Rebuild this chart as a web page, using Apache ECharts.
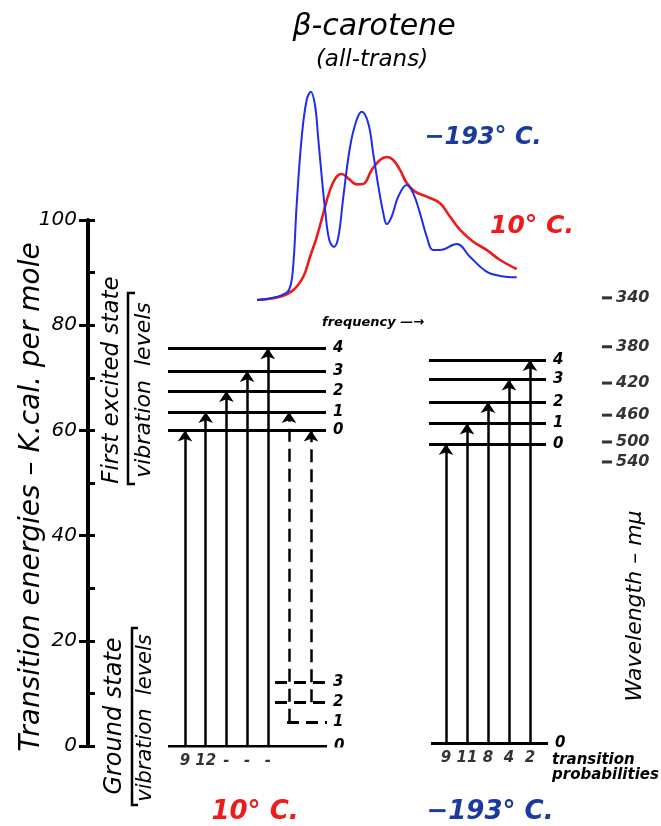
<!DOCTYPE html>
<html>
<head>
<meta charset="utf-8">
<script src="https://cdn.jsdelivr.net/npm/echarts@6/dist/echarts.min.js"></script>
<style>
  html, body { margin: 0; background: #fff; }
  #chart { width: 661px; height: 826px; }
</style>
</head>
<body>
<div id="chart"></div>
<script>
// energies in K.cal. per mole
const warmExcited = [60, 63.5, 67.5, 71.3, 75.6]
const warmGround = [0, 4.6, 8.3, 12.2]
const coldExcited = [57.4, 61.3, 65.4, 69.7, 73.4]
const coldGround = [0.6]
const levelNames = ['0', '1', '2', '3', '4']
const warmProb = ['9', '12', '-', '-', '-']
const coldProb = ['9', '11', '8', '4', '2']
// hot bands at 10 C: ground level -> excited level
const hotFrom = [1, 2]
const hotTo = [1, 0]
// wavelength scale (m\u03bc) and where each tick sits on the energy scale
const wavelengthLabels = ['340', '380', '420', '460', '500', '540']
const wavelengthEnergy = [85.2, 75.9, 69.0, 62.9, 57.8, 54.0]

// absorption spectra, frequency vs. absorbance (arbitrary units)
const coldSpectrum = [
  [0, 0], [5, 0.7], [9.6, 2.3], [12.3, 4.7], [13.8, 14], [15.3, 45.1], [17.2, 75.8],
  [19.1, 93], [20.7, 96.9], [22.3, 90.7], [23.5, 75.8], [24.9, 57.3], [26.2, 41.9],
  [27.8, 27.9], [29.6, 24.7], [31.3, 29.4], [33.2, 48], [35.8, 71.3], [38.3, 83.7],
  [40.3, 87.6], [42.8, 82.2], [44.7, 68.2], [46.7, 52.7], [48.6, 40.3], [49.9, 35.3],
  [51.8, 38.8], [54.3, 48], [57.6, 53.5], [60.1, 49.6], [62.7, 40.3], [65.3, 29.4],
  [67.7, 23.3], [70.4, 23.3], [76.8, 26], [81.9, 20.1], [88.3, 13.2], [93.5, 11.2], [99.9, 10.6]
]
const warmSpectrum = [
  [0, 0], [8.8, 1.5], [14, 4.7], [17.8, 10.8], [20.4, 20.1], [23, 29.4], [25.5, 40.3],
  [28.1, 51.2], [30.6, 57.3], [32.6, 58.6], [35.1, 56.6], [38.3, 53.8], [40.9, 54],
  [44.1, 60.5], [47.3, 65.1], [49.9, 66.5], [52.4, 65.1], [55, 60.5], [57.6, 54.4],
  [60.8, 50.4], [65.3, 48.1], [70.4, 45], [74.2, 38.8], [78.1, 32.6], [83.2, 27.1],
  [88.3, 23.3], [93.5, 18.6], [99.9, 14.4]
]

const FONT = 'DejaVu Sans'
const RED = '#ee1b1b'
const BLUE = '#1e2cf0'
const BLUE_TEXT = '#1b3a9e'

// diagram columns (x axis of the lower grid runs in page columns)
const warmLeft = 168, warmRight = 326, warmArrow0 = 185
const coldLeft = 429, coldRight = 546, coldArrow0 = 446
const arrowStep = 21
const hotX = [289, 311]
const dashedLeft = [287, 275, 275]

const levelData = []
warmExcited.forEach((e, i) => levelData.push({ name: levelNames[i], coords: [[warmLeft, e], [warmRight, e]] }))
levelData.push({ name: levelNames[0], coords: [[warmLeft, warmGround[0]], [warmRight + 1, warmGround[0]]] })
coldExcited.forEach((e, i) => levelData.push({ name: levelNames[i], coords: [[coldLeft, e], [coldRight, e]] }))
levelData.push({ name: levelNames[0], coords: [[coldLeft + 2, coldGround[0]], [coldRight + 2, coldGround[0]]] })

const dashedLevels = warmGround.slice(1).map((e, i) => ({
  name: levelNames[i + 1], coords: [[dashedLeft[i], e], [warmRight + 1, e]]
}))

const arrowData = []
const probData = []
warmExcited.forEach((e, i) => {
  const x = warmArrow0 + i * (arrowStep - 0.3)
  arrowData.push({ coords: [[x, warmGround[0]], [x, e]] })
  probData.push([x, warmGround[0], warmProb[i]])
})
coldExcited.forEach((e, i) => {
  const x = coldArrow0 + i * arrowStep
  arrowData.push({ coords: [[x, coldGround[0]], [x, e]] })
  probData.push([x, coldGround[0], coldProb[i]])
})

const hotArrows = hotFrom.map((g, i) => ({
  coords: [[hotX[i], warmGround[g]], [hotX[i], warmExcited[hotTo[i]]]]
}))

const boldItalic = { fontFamily: FONT, fontStyle: 'italic', fontWeight: 'bold', color: '#000' }

const chart = echarts.init(document.getElementById('chart'))

const txt = (x, y, text, font, fill, rot) => ({
  type: 'text', x, y, rotation: rot ? Math.PI / 2 : 0,
  style: { text, font: font + ' "DejaVu Sans"', fill: fill || '#000', textAlign: 'center', textVerticalAlign: 'middle' }
})

const option = {
  animation: false,
  backgroundColor: '#fff',
  grid: [
    { left: 88, top: 220, width: 573, height: 526 },
    { left: 257, top: 85, width: 260, height: 215 }
  ],
  xAxis: [
    { gridIndex: 0, type: 'value', min: 88, max: 661, show: false },
    { gridIndex: 1, type: 'value', min: 0, max: 100, show: false }
  ],
  yAxis: [
    {
      gridIndex: 0, type: 'value', min: 0, max: 100, interval: 20, position: 'left',
      axisLine: { show: true, lineStyle: { color: '#000', width: 4 } },
      axisTick: { show: true, inside: false, length: 9, lineStyle: { color: '#000', width: 3 } },
      axisLabel: { fontFamily: FONT, fontStyle: 'italic', fontSize: 20, color: '#000', margin: 11 },
      splitLine: { show: false }
    },
    {
      gridIndex: 0, type: 'value', min: 0, max: 100, interval: 10, position: 'left',
      axisLine: { show: false },
      axisTick: { show: true, inside: true, length: 7, lineStyle: { color: '#000', width: 3 } },
      axisLabel: { show: false },
      splitLine: { show: false }
    },
    { gridIndex: 1, type: 'value', min: 0, max: 100, show: false }
  ],
  series: [
    {
      name: 'levels', type: 'lines', coordinateSystem: 'cartesian2d', xAxisIndex: 0, yAxisIndex: 0,
      silent: true, symbol: 'none',
      lineStyle: { color: '#000', width: 3, opacity: 1 },
      label: { show: true, position: 'end', distance: 7, formatter: p => p.name, ...boldItalic, fontSize: 15 },
      data: levelData
    },
    {
      name: 'ground levels', type: 'lines', coordinateSystem: 'cartesian2d', xAxisIndex: 0, yAxisIndex: 0,
      silent: true, symbol: 'none',
      lineStyle: { color: '#000', width: 3, opacity: 1, type: [12, 7] },
      label: { show: true, position: 'end', distance: 6, formatter: p => p.name, ...boldItalic, fontSize: 15 },
      data: dashedLevels
    },
    {
      name: 'transitions', type: 'lines', coordinateSystem: 'cartesian2d', xAxisIndex: 0, yAxisIndex: 0,
      silent: true, symbol: ['none', 'arrow'], symbolSize: 11,
      lineStyle: { color: '#000', width: 2.5, opacity: 1 },
      data: arrowData
    },
    {
      name: 'hot bands', type: 'lines', coordinateSystem: 'cartesian2d', xAxisIndex: 0, yAxisIndex: 0,
      silent: true, symbol: ['none', 'arrow'], symbolSize: 11,
      lineStyle: { color: '#000', width: 2.5, opacity: 1, type: [13, 7] },
      data: hotArrows
    },
    {
      name: 'transition probabilities', type: 'scatter', xAxisIndex: 0, yAxisIndex: 0, clip: false, silent: true,
      symbolSize: 0,
      label: { show: true, position: 'bottom', distance: 8, formatter: p => p.data[2], ...boldItalic, fontSize: 15 },
      data: probData
    },
    {
      name: 'wavelength', type: 'scatter', xAxisIndex: 0, yAxisIndex: 0, clip: false, silent: true,
      symbol: 'rect', symbolSize: [10, 3], itemStyle: { color: '#000' },
      label: { show: true, position: 'right', distance: 4, formatter: p => p.data[2], ...boldItalic, fontSize: 16 },
      data: wavelengthEnergy.map((e, i) => [607, e, wavelengthLabels[i]])
    },
    {
      name: '10\u00b0 C.', type: 'line', xAxisIndex: 1, yAxisIndex: 2, smooth: 0.4,
      showSymbol: false, silent: true,
      lineStyle: { color: RED, width: 2.6 },
      data: warmSpectrum
    },
    {
      name: '\u2212193\u00b0 C.', type: 'line', xAxisIndex: 1, yAxisIndex: 2, smooth: 0.4,
      showSymbol: false, silent: true,
      lineStyle: { color: BLUE, width: 2 },
      data: coldSpectrum
    }
  ],
  graphic: [
    txt(374, 27, '\u03b2-carotene', 'italic 30px'),
    txt(372, 60, '(all-trans)', 'italic 23px'),
    txt(483, 138, '\u2212193\u00b0 C.', 'italic bold 24px', BLUE_TEXT),
    txt(532, 226, '10\u00b0 C.', 'italic bold 25px', RED),
    { type: 'text', x: 322, y: 323, style: { text: 'frequency \u2014\u2192', font: 'italic bold 13px "DejaVu Sans"', fill: '#000', textAlign: 'left', textVerticalAlign: 'middle' } },
    txt(32, 497, 'Transition energies \u2013 K.cal. per mole', 'italic 28px', null, true),
    txt(112, 380, 'First excited state', 'italic 23px', null, true),
    txt(144, 390, 'vibration  levels', 'italic 22px', null, true),
    { type: 'polyline', shape: { points: [[135, 293], [128, 293], [128, 484], [135, 484]] }, style: { stroke: '#000', lineWidth: 2.5, fill: null } },
    txt(115, 716, 'Ground state', 'italic 24px', null, true),
    txt(146, 718, 'vibration  levels', 'italic 21px', null, true),
    { type: 'polyline', shape: { points: [[138, 628], [132, 628], [132, 805], [138, 805]] }, style: { stroke: '#000', lineWidth: 2.5, fill: null } },
    txt(635, 606, 'Wavelength \u2013 m\u03bc', 'italic 22px', null, true),
    { type: 'text', x: 552, y: 760, style: { text: 'transition', font: 'italic bold 15px "DejaVu Sans"', fill: '#000', textAlign: 'left', textVerticalAlign: 'middle' } },
    { type: 'text', x: 552, y: 775, style: { text: 'probabilities', font: 'italic bold 15px "DejaVu Sans"', fill: '#000', textAlign: 'left', textVerticalAlign: 'middle' } },
    txt(255, 812, '10\u00b0 C.', 'italic bold 26px', RED),
    txt(490, 812, '\u2212193\u00b0 C.', 'italic bold 26px', BLUE_TEXT)
  ]
}

chart.setOption(option)
</script>
</body>
</html>
